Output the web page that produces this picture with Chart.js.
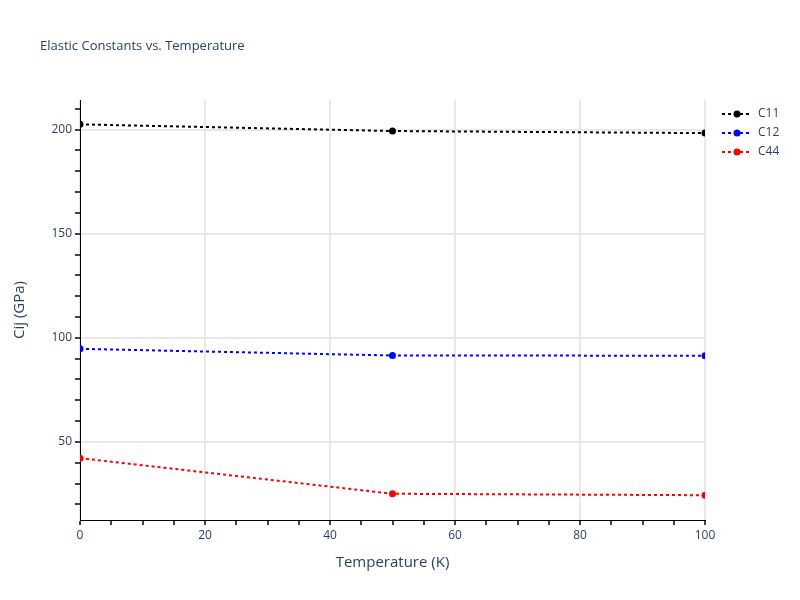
<!DOCTYPE html>
<html>
<head>
<meta charset="utf-8">
<script src="https://cdn.jsdelivr.net/npm/chart.js@4"></script>
<style>
  body { margin: 0; background: #fff; }
  canvas { display: block; }
</style>
</head>
<body>
<canvas id="myChart" width="800" height="600"></canvas>
<script>
// values
var temperatures = [0, 50, 100];
var c11 = [202.5, 199.3, 198.3];
var c12 = [94.7, 91.5, 91.4];
var c44 = [42.2, 25.1, 24.4];
var seriesNames = ['C11', 'C12', 'C44'];
var seriesColors = ['#000000', '#0000ff', '#ff0000'];

var textColor = '#2a3f5f';
var fontFamily = '"Open Sans", "Liberation Sans", sans-serif';

function points(ys) {
    return temperatures.map(function (t, i) { return {x: t, y: ys[i]}; });
}

var datasets = [c11, c12, c44].map(function (ys, i) {
    return {
        label: seriesNames[i],
        data: points(ys),
        borderColor: seriesColors[i],
        backgroundColor: seriesColors[i],
        borderWidth: 2,
        borderDash: [3, 3],
        pointRadius: 3.5,
        pointHoverRadius: 3.5,
        pointBorderWidth: 0,
        tension: 0
    };
});

// title + legend drawn by hand so the plot area stays where it is
var decorations = {
    id: 'decorations',
    afterDraw: function (chart) {
        var c = chart.ctx;
        c.save();
        c.fillStyle = textColor;
        c.font = '13px ' + fontFamily;
        c.textBaseline = 'middle';
        c.textAlign = 'left';
        c.fillText('Elastic Constants vs. Temperature', 40, 46);

        chart.data.datasets.forEach(function (ds, i) {
            var y = 114 + i * 19;
            c.strokeStyle = ds.borderColor;
            c.lineWidth = 2;
            c.setLineDash([3, 3]);
            c.beginPath();
            c.moveTo(722, y);
            c.lineTo(752, y);
            c.stroke();
            c.setLineDash([]);
            c.fillStyle = ds.borderColor;
            c.beginPath();
            c.arc(737, y, 3.5, 0, Math.PI * 2);
            c.fill();
            c.fillStyle = textColor;
            c.font = '12px ' + fontFamily;
            c.fillText(ds.label, 758, y);
        });
        c.restore();
    }
};

var ctx = document.getElementById('myChart').getContext('2d');
var myChart = new Chart(ctx, {
    type: 'line',
    data: { datasets: datasets },
    options: {
        responsive: false,
        animation: false,
        layout: { padding: { top: 100, right: 95, bottom: 0, left: 0 } },
        scales: {
            x: {
                type: 'linear',
                min: 0,
                max: 100,
                afterFit: function (s) { s.height = 80; },
                border: { color: '#000', width: 1 },
                grid: {
                    color: function (c) { return c.tick && c.tick.value % 20 === 0 ? '#e8e8e8' : 'rgba(0,0,0,0)'; },
                    tickColor: '#444',
                    tickLength: 5,
                    lineWidth: 2
                },
                ticks: {
                    stepSize: 5,
                    autoSkip: false,
                    maxRotation: 0,
                    padding: 3,
                    color: textColor,
                    font: { family: fontFamily, size: 12 },
                    callback: function (v) { return v % 20 === 0 ? v : ''; }
                },
                title: {
                    display: true,
                    text: 'Temperature (K)',
                    color: textColor,
                    font: { family: fontFamily, size: 15 },
                    padding: { top: 0, bottom: 28 }
                }
            },
            y: {
                type: 'linear',
                min: 12.5,
                max: 214.2,
                afterFit: function (s) { s.width = 80; },
                border: { color: '#000', width: 1 },
                grid: {
                    color: function (c) { return c.tick && c.tick.value % 50 === 0 ? '#e8e8e8' : 'rgba(0,0,0,0)'; },
                    tickColor: '#444',
                    tickLength: 5,
                    lineWidth: 2
                },
                ticks: {
                    stepSize: 10,
                    includeBounds: false,
                    autoSkip: false,
                    padding: 3,
                    color: textColor,
                    font: { family: fontFamily, size: 12 },
                    callback: function (v) { return v % 50 === 0 ? v : ''; }
                },
                title: {
                    display: true,
                    text: 'Cij (GPa)',
                    color: textColor,
                    font: { family: fontFamily, size: 15 },
                    padding: { top: 11, bottom: 0 }
                }
            }
        },
        plugins: {
            legend: { display: false },
            title: { display: false },
            tooltip: { enabled: false }
        }
    },
    plugins: [decorations]
});
</script>
</body>
</html>
